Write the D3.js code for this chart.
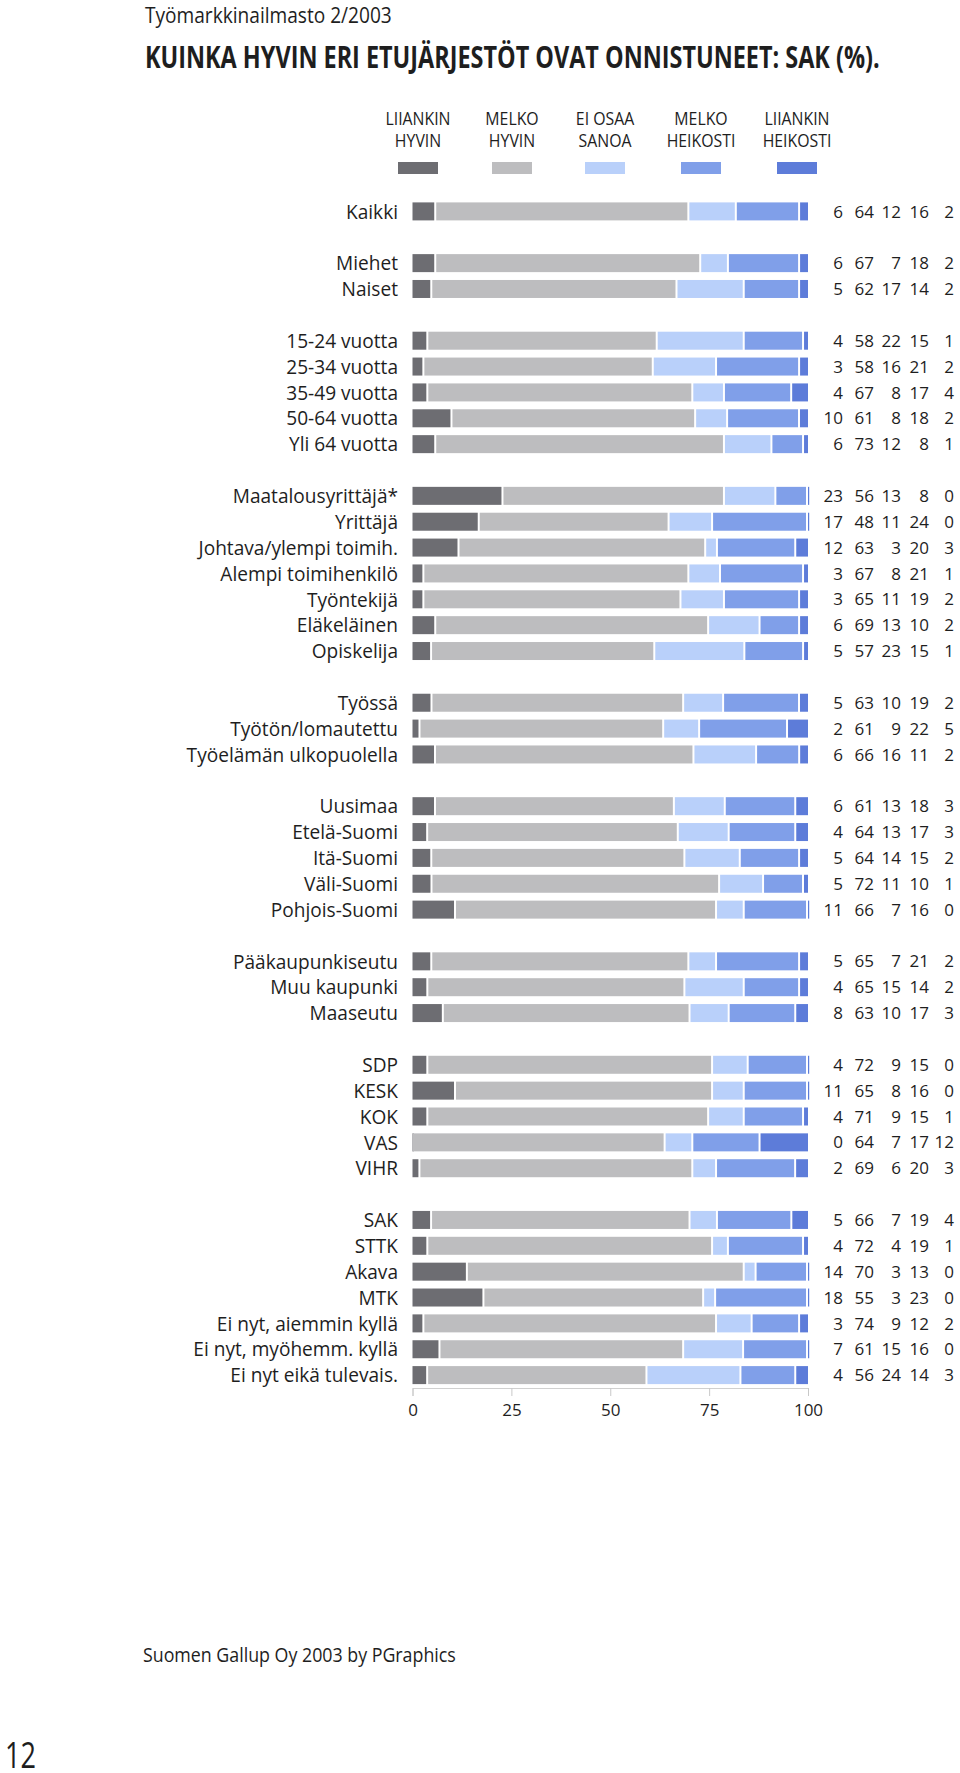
<!DOCTYPE html>
<html><head><meta charset="utf-8">
<script src="https://cdn.jsdelivr.net/npm/d3@7/dist/d3.min.js"></script>
<style>
html,body{margin:0;padding:0;background:#fff;}
svg{display:block;font-family:"Open Sans",sans-serif;}
</style></head>
<body><svg id="c" width="960" height="1773"></svg>
<script>
// ---- data ----
const categories = ["Kaikki","Miehet","Naiset","15-24 vuotta","25-34 vuotta","35-49 vuotta","50-64 vuotta","Yli 64 vuotta",
"Maatalousyrittäjä*","Yrittäjä","Johtava/ylempi toimih.","Alempi toimihenkilö","Työntekijä","Eläkeläinen","Opiskelija",
"Työssä","Työtön/lomautettu","Työelämän ulkopuolella",
"Uusimaa","Etelä-Suomi","Itä-Suomi","Väli-Suomi","Pohjois-Suomi",
"Pääkaupunkiseutu","Muu kaupunki","Maaseutu",
"SDP","KESK","KOK","VAS","VIHR",
"SAK","STTK","Akava","MTK","Ei nyt, aiemmin kyllä","Ei nyt, myöhemm. kyllä","Ei nyt eikä tulevais."];
const groupSizes = [1,2,5,7,3,5,3,5,7];
const seriesNames = [["LIIANKIN","HYVIN"],["MELKO","HYVIN"],["EI OSAA","SANOA"],["MELKO","HEIKOSTI"],["LIIANKIN","HEIKOSTI"]];
const liiankinHyvin   = [6,6,5,4,3,4,10,6,23,17,12,3,3,6,5,5,2,6,6,4,5,5,11,5,4,8,4,11,4,0,2,5,4,14,18,3,7,4];
const melkoHyvin      = [64,67,62,58,58,67,61,73,56,48,63,67,65,69,57,63,61,66,61,64,64,72,66,65,65,63,72,65,71,64,69,66,72,70,55,74,61,56];
const eiOsaaSanoa     = [12,7,17,22,16,8,8,12,13,11,3,8,11,13,23,10,9,16,13,13,14,11,7,7,15,10,9,8,9,7,6,7,4,3,3,9,15,24];
const melkoHeikosti   = [16,18,14,15,21,17,18,8,8,24,20,21,19,10,15,19,22,11,18,17,15,10,16,21,14,17,15,16,15,17,20,19,19,13,23,12,16,14];
const liiankinHeikosti= [2,2,2,1,2,4,2,1,0,0,3,1,2,2,1,2,5,2,3,3,2,1,0,2,2,3,0,0,1,12,3,4,1,0,0,2,0,3];
const tickValues = [0,25,50,75,100];
const titleText = "KUINKA HYVIN ERI ETUJÄRJESTÖT OVAT ONNISTUNEET: SAK (%).";
const subtitleText = "Työmarkkinailmasto 2/2003";
const footerText = "Suomen Gallup Oy 2003 by PGraphics";
const pageNumber = "12";

const series = [liiankinHyvin, melkoHyvin, eiOsaaSanoa, melkoHeikosti, liiankinHeikosti];
const colors = ["#6d6d72","#bdbdbf","#b9d0fa","#809fe9","#5d7cd9"];

// ---- layout ----
const svg = d3.select("#c");
const x = d3.scaleLinear().domain([0,100]).range([412.5,808]);

const slots = [];
let ci = 0;
groupSizes.forEach((g,gi)=>{
  if(gi>0) slots.push("blank"+gi);
  for(let k=0;k<g;k++){ slots.push(categories[ci]); ci++; }
});
const y = d3.scalePoint().domain(slots).range([211.4,1375.1]);
const barH = 18;

const rows = categories.map((c,i)=>{
  const vals = series.map(s=>s[i]);
  const tot = d3.sum(vals);
  let cum = 0;
  const segs = vals.map((v,j)=>{ const s0=cum/tot*100; cum+=v; return {j, v, s0, s1:cum/tot*100}; });
  return {c, vals, segs};
});

const g = svg.append("g");
const row = g.selectAll("g.row").data(rows).join("g").attr("class","row")
  .attr("transform", d=>`translate(0,${y(d.c)})`);

row.selectAll("rect").data(d=>d.segs).join("rect")
  .attr("x", d=>x(d.s0))
  .attr("y", -barH/2)
  .attr("height", barH)
  .attr("width", d=>{
    const w = x(d.s1)-x(d.s0) - (d.j<4 ? 2 : 0);
    return Math.max(w, 1.2);
  })
  .attr("fill", d=>colors[d.j]);

row.append("text")
  .attr("transform","translate(398,0) scale(0.955,1)")
  .attr("dy","0.36em")
  .attr("text-anchor","end")
  .attr("font-size",20).attr("fill","#1e1e1e")
  .text(d=>d.c);

const numX = [843,874,901,929,954];
row.selectAll("text.num").data(d=>d.vals).join("text").attr("class","num")
  .attr("x",(d,j)=>numX[j]).attr("dy","0.36em")
  .attr("text-anchor","end")
  .attr("font-size",17).attr("fill","#1e1e1e")
  .text(d=>d);

// axis
const axis = d3.axisBottom(x).tickValues(tickValues).tickSize(8).tickPadding(8);
const ax = svg.append("g").attr("transform","translate(0,1388)").call(axis);
ax.select(".domain").attr("stroke","#d0d0d0").attr("stroke-width",1);
ax.selectAll(".tick line").attr("stroke","#c8c8c8");
ax.selectAll(".tick text").attr("font-size",17).attr("fill","#1e1e1e").attr("font-family","Open Sans");

// legend
const legendX = [418,512,605,701,797];
const lg = svg.append("g").selectAll("g").data(seriesNames).join("g")
  .attr("transform",(d,i)=>`translate(${legendX[i]},0)`);
lg.append("rect").attr("x",-20).attr("y",162).attr("width",40).attr("height",12)
  .attr("fill",(d,i)=>colors[i]);
lg.each(function(d){
  const s = d3.select(this);
  d.forEach((t,k)=>{
    s.append("text").attr("transform",`translate(0,${125+k*22}) scale(0.88,1)`)
      .attr("text-anchor","middle").attr("font-size",18).attr("fill","#1e1e1e").text(t);
  });
});

// free texts, horizontally fitted to a target width
function fitted(txt, px, py, size, weight, width){
  const t = svg.append("text").attr("font-size",size).attr("font-weight",weight).attr("fill","#1e1e1e").text(txt);
  const len = t.node().getComputedTextLength();
  t.attr("transform",`translate(${px},${py}) scale(${width/len},1)`);
  return t;
}
fitted(subtitleText, 145, 23, 21, "normal", 247);
fitted(titleText, 145, 68, 30, "bold", 735);
fitted(footerText, 143, 1662, 20, "normal", 313);
fitted(pageNumber, 5, 1768, 36, "normal", 31);
</script></body></html>
